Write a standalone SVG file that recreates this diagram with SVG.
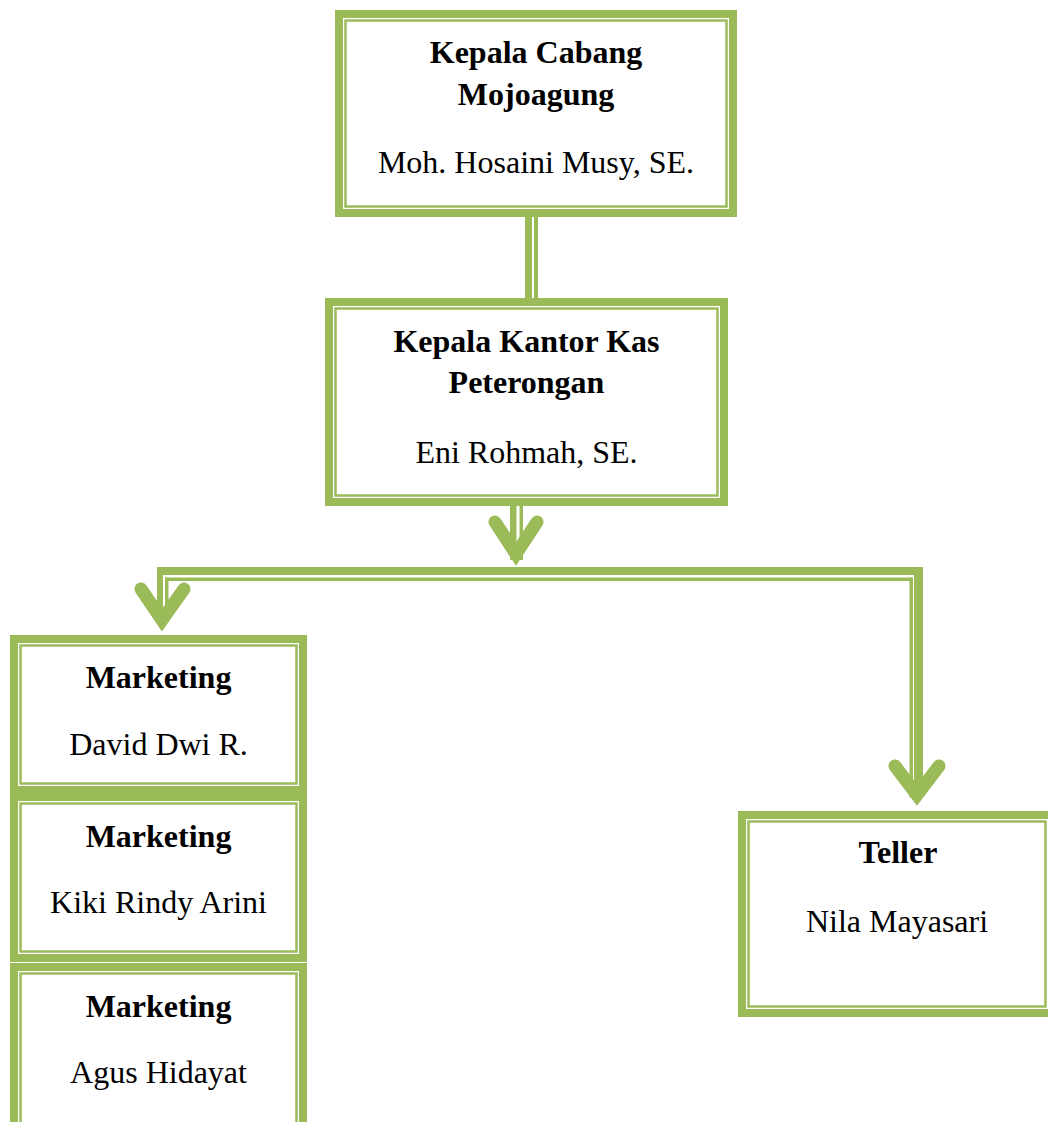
<svg xmlns="http://www.w3.org/2000/svg" width="1048" height="1122" viewBox="0 0 1048 1122">
<style>
.band{fill:#9BBB59}
.gap{fill:#FFFFFF}
.inner{fill:none;stroke:#9BBB59;stroke-width:2.5}
.t{font-family:"Liberation Serif","Times New Roman",serif;font-size:32px;fill:#000;text-anchor:middle}
.b{font-weight:bold}
.line{fill:#9BBB59}
.arrow{fill:none;stroke:#9BBB59;stroke-width:13;stroke-linecap:round;stroke-linejoin:miter;stroke-miterlimit:10}
</style>
<rect width="1048" height="1122" fill="#FFFFFF"/>
<g id="connectors">
  <rect class="line" x="525" y="215" width="7" height="86"/>
  <rect class="line" x="534" y="215" width="4" height="86"/>
  <rect class="line" x="510" y="504" width="6.5" height="56"/>
  <rect class="line" x="519.5" y="504" width="3.5" height="56"/>
  <polyline class="arrow" points="495,522 516,554 537,522"/>
  <rect class="line" x="157" y="567" width="761" height="8"/>
  <rect class="line" x="165" y="577.5" width="747" height="3.5"/>
  <rect class="line" x="157" y="567" width="6" height="55"/>
  <rect class="line" x="165" y="577.5" width="3.5" height="45"/>
  <polyline class="arrow" points="141,589 162,620 184,589"/>
  <rect class="line" x="914" y="567" width="9" height="230"/>
  <rect class="line" x="909.5" y="577.5" width="3.5" height="220"/>
  <polyline class="arrow" points="895,766 917,795 939,766"/>
</g>
<g id="node-kepala-cabang">
  <rect class="band" x="335" y="10" width="402" height="207"/>
  <rect class="gap" x="343" y="18" width="386" height="191"/>
  <rect class="inner" x="345.5" y="20.5" width="381" height="186"/>
  <text class="t b" x="536" y="63">Kepala Cabang</text>
  <text class="t b" x="536" y="105">Mojoagung</text>
  <text class="t" x="536" y="173">Moh. Hosaini Musy, SE.</text>
</g>
<g id="node-kepala-kantor-kas">
  <rect class="band" x="325" y="298" width="403" height="208"/>
  <rect class="gap" x="333" y="306" width="387" height="192"/>
  <rect class="inner" x="335.5" y="308.5" width="382" height="187"/>
  <text class="t b" x="526.5" y="352">Kepala Kantor Kas</text>
  <text class="t b" x="526.5" y="393">Peterongan</text>
  <text class="t" x="526.5" y="463">Eni Rohmah, SE.</text>
</g>
<g id="node-marketing-1">
  <rect class="band" x="10" y="635" width="297" height="159"/>
  <rect class="gap" x="18" y="643" width="281" height="143"/>
  <rect class="inner" x="20.5" y="645.5" width="276" height="138"/>
  <text class="t b" x="158.5" y="688">Marketing</text>
  <text class="t" x="158.5" y="755">David Dwi R.</text>
</g>
<g id="node-marketing-2">
  <rect class="band" x="10" y="793" width="297" height="169"/>
  <rect class="gap" x="18" y="801" width="281" height="153"/>
  <rect class="inner" x="20.5" y="803.5" width="276" height="148"/>
  <text class="t b" x="158.5" y="847">Marketing</text>
  <text class="t" x="158.5" y="913">Kiki Rindy Arini</text>
</g>
<g id="node-marketing-3">
  <rect class="band" x="10" y="963" width="297" height="175"/>
  <rect class="gap" x="18" y="971" width="281" height="159"/>
  <rect class="inner" x="20.5" y="973.5" width="276" height="154"/>
  <text class="t b" x="158.5" y="1017">Marketing</text>
  <text class="t" x="158.5" y="1083">Agus Hidayat</text>
</g>
<g id="node-teller">
  <rect class="band" x="738" y="811" width="318" height="206"/>
  <rect class="gap" x="746" y="819" width="302" height="190"/>
  <rect class="inner" x="748.5" y="821.5" width="297" height="185"/>
  <text class="t b" x="898" y="863">Teller</text>
  <text class="t" x="897" y="932">Nila Mayasari</text>
</g>
</svg>
